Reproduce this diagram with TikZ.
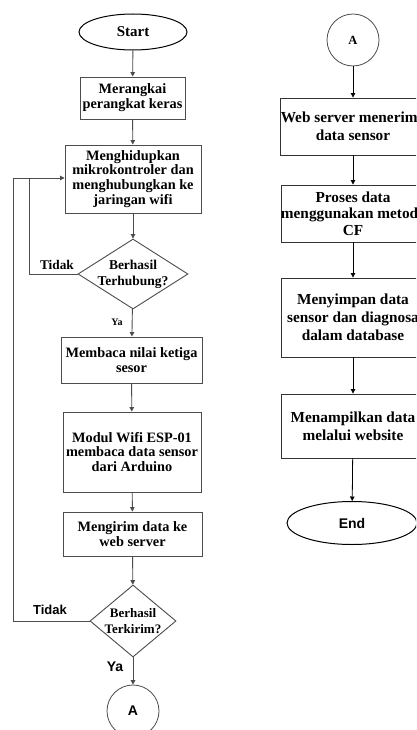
\documentclass[tikz,border=0pt]{standalone}
\usepackage{fontspec}
\setmainfont{Liberation Serif}
\newfontfamily\arialfont{Liberation Sans}
\usetikzlibrary{arrows.meta,shapes.geometric}
\begin{document}
\begin{tikzpicture}[x=1pt,y=-1pt,
  lline/.style={draw=black!70,line width=0.9pt},
  rline/.style={draw=black,line width=0.8pt},
  arr/.style={-{Triangle[length=4.5pt,width=4.5pt]}},
  txt/.style={font=\fontsize{14.3}{14.8}\selectfont\bfseries,align=center,inner sep=0pt},
  dtxt/.style={font=\fontsize{13.5}{16}\selectfont\bfseries,align=center,inner sep=0pt},
  rtxt/.style={font=\fontsize{15.3}{18}\selectfont\bfseries,align=center,inner sep=0pt},
  lbox/.style={rectangle,draw=black!70,line width=0.9pt,txt},
  rbox/.style={rectangle,draw=black!80,line width=0.9pt,rtxt,minimum width=144pt},
  term/.style={ellipse,draw=black,line width=1pt,inner sep=0pt},
  dec/.style={diamond,draw=black!70,line width=0.9pt,inner sep=0pt},
  conn/.style={circle,draw=black!70,line width=0.8pt,minimum size=52pt,inner sep=0pt},
  lab/.style={font=\fontsize{13.3}{14}\selectfont\bfseries,inner sep=0pt},
  slab/.style={font=\arialfont\fontsize{13}{14}\selectfont\bfseries,inner sep=0pt}
]
\path[use as bounding box,clip] (0,0) rectangle (416,730);
\fill[white] (0,0) rectangle (416,730);

% ---- left column ----
\node[term,minimum width=108pt,minimum height=36pt,font=\fontsize{15}{16}\selectfont\bfseries] (start) at (133,32) {Start};
\node[lbox,minimum width=105pt,minimum height=42pt] (b1) at (132.5,98) {Merangkai\\perangkat keras};
\node[lbox,minimum width=136pt,minimum height=68pt] (b2) at (133,179) {Menghidupkan\\mikrokontroler dan\\menghubungkan ke\\jaringan wifi};
\node[dec,minimum width=110pt,minimum height=70pt] (d1) at (133,274) {};
\node[dtxt] at (d1) {Berhasil\\Terhubung?};
\node[lbox,minimum width=141pt,minimum height=46pt] (b3) at (131.5,360) {Membaca nilai ketiga\\sesor};
\node[lbox,minimum width=138pt,minimum height=80pt] (b4) at (132,452) {Modul Wifi ESP-01\\membaca data sensor\\dari Arduino};
\node[lbox,minimum width=139pt,minimum height=44pt] (b5) at (132.5,534) {Mengirim data ke\\web server};
\node[dec,minimum width=86pt,minimum height=72pt] (d2) at (133,621) {};
\node[dtxt,font=\fontsize{13}{15.7}\selectfont\bfseries] at (d2) {Berhasil\\Terkirim?};
\node[conn,font=\arialfont\fontsize{14}{15}\selectfont\bfseries] (ca) at (133,711) {A};

\coordinate (j1) at (29,178);
\coordinate (j2) at (13,178);

\draw[lline,arr] (start) -- (b1);
\draw[lline,arr] (b1) -- (b2);
\draw[lline,arr] (b2) -- (d1);
\draw[lline,arr] (d1) -- (b3);
\draw[lline,arr] (b3) -- (b4);
\draw[lline,arr] (b4) -- (b5);
\draw[lline,arr] (b5) -- (d2);
\draw[lline,arr] (d2) -- (ca);
\draw[lline] (d1.west) -| (j1);
\draw[lline] (d2.west) -| (j2);
\draw[lline,arr] (j2) -- (b2.west |- j2);

\node[lab] at (57,265) {Tidak};
\node[lab,font=\fontsize{10}{12}\selectfont\bfseries] at (117,322) {Ya};
\node[slab] at (50,610) {Tidak};
\node[slab,font=\arialfont\fontsize{14}{15}\selectfont\bfseries] at (115,667) {Ya};

% ---- right column ----
\node[conn,font=\fontsize{12.5}{14}\selectfont\bfseries] (cb) at (353,40) {A};
\node[rbox,minimum height=57pt] (r1) at (353,126.5) {Web server menerima\\data sensor};
\node[rbox,minimum height=57pt,font=\fontsize{15.3}{16.5}\selectfont\bfseries] (r2) at (353,213.5) {Proses data\\menggunakan metode\\CF};
\node[rbox,minimum height=79pt] (r3) at (353,317.5) {Menyimpan data\\sensor dan diagnosa\\dalam database};
\node[rbox,minimum height=64pt] (r4) at (353,426) {Menampilkan data\\melalui website};
\node[term,minimum width=130pt,minimum height=43pt,font=\arialfont\fontsize{14}{16}\selectfont\bfseries] (end) at (352,523) {End};

\draw[rline,arr] (cb) -- (r1);
\draw[rline,arr] (r1) -- (r2);
\draw[rline,arr] (r2) -- (r3);
\draw[rline,arr] (r3) -- (r4);
\draw[rline,arr] (r4) -- (end);
\end{tikzpicture}
\end{document}
